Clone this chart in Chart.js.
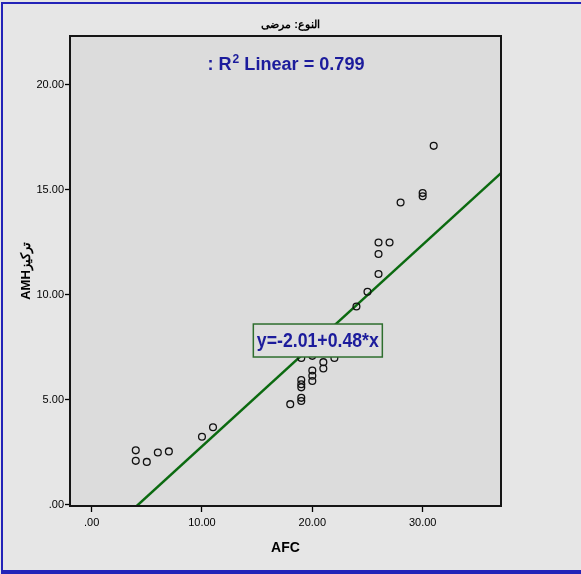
<!DOCTYPE html>
<html>
<head>
<meta charset="utf-8">
<script src="https://cdn.jsdelivr.net/npm/chart.js@4.4.0/dist/chart.umd.min.js"></script>
<style>
  html, body { margin: 0; padding: 0; background: #e6e6e6; }
  #wrap { width: 581px; height: 574px; }
</style>
</head>
<body>
<div id="wrap"><canvas id="myChart" width="581" height="574"></canvas></div>
<script>
// values
var afc = [4, 4, 5, 6, 7, 10, 11, 18, 19, 19, 19, 19, 19, 19, 20, 20, 20, 20, 21, 21, 22, 24, 25, 26, 26, 26, 27, 28, 30, 30, 31];
var amh = [2.6, 2.1, 2.05, 2.5, 2.55, 3.25, 3.7, 4.8, 4.95, 5.1, 5.6, 5.75, 5.95, 7.0, 5.9, 6.15, 6.4, 7.1, 6.5, 6.8, 7.0, 9.45, 10.15, 11.0, 11.95, 12.5, 12.5, 14.4, 14.7, 14.85, 17.1];
var fitIntercept = -2.01;
var fitSlope = 0.48;
var rSquared = 0.799;
var xTicks = [0, 10, 20, 30];
var yTicks = [0, 5, 10, 15, 20];
var xRange = [-1.96, 37.1];
var yRange = [-0.05, 22.33];

var titleText = 'النوع: مرضى';
var xTitle = 'AFC';
var yTitle = 'AMHتركيز';

var points = afc.map(function (v, i) { return { x: v, y: amh[i] }; });
var fitLine = xRange.map(function (v) { return { x: v, y: fitIntercept + fitSlope * v }; });

function fmt(v) {
  return v === 0 ? '.00' : v.toFixed(2);
}

var FONT = "'Liberation Sans', Arial, sans-serif";

// draw a string squeezed to a target width
function narrowText(ctx, txt, x, y, w) {
  var m = ctx.measureText(txt).width;
  ctx.save();
  ctx.translate(x, y);
  ctx.scale(w / m, 1);
  ctx.fillText(txt, 0, 0);
  ctx.restore();
}

var spssLook = {
  id: 'spssLook',
  beforeDraw: function (chart) {
    var c = chart.ctx, a = chart.chartArea;
    c.save();
    c.fillStyle = '#e6e6e6';
    c.fillRect(0, 0, chart.width, chart.height);
    c.fillStyle = '#dcdcdc';
    c.fillRect(a.left, a.top, a.right - a.left, a.bottom - a.top);
    c.restore();
  },
  afterDatasetsDraw: function (chart) {
    var c = chart.ctx, a = chart.chartArea;
    var xs = chart.scales.x, ys = chart.scales.y;
    c.save();
    // frame
    c.strokeStyle = '#151515';
    c.lineWidth = 2;
    c.strokeRect(a.left, a.top, a.right - a.left, a.bottom - a.top);

    // title
    c.fillStyle = '#000';
    c.font = 'bold 11px ' + FONT;
    c.textAlign = 'center';
    c.textBaseline = 'middle';
    c.fillText(titleText, chart.width / 2, 25);

    // R2 text
    c.fillStyle = '#1c1c9c';
    c.textAlign = 'left';
    c.textBaseline = 'alphabetic';
    c.font = 'bold 18px ' + FONT;
    var p1 = ': R', p3 = ' Linear = ' + rSquared.toFixed(3);
    var w1 = c.measureText(p1).width, w3 = c.measureText(p3).width;
    c.font = 'bold 12px ' + FONT;
    var w2 = c.measureText('2').width;
    var k = 156 / (w1 + w2 + w3);
    var cx = (a.left + a.right) / 2;
    var x0 = cx - 78, base = 70;
    c.save();
    c.translate(x0, base);
    c.scale(k, 1);
    c.font = 'bold 18px ' + FONT;
    c.fillText(p1, 0, 0);
    c.font = 'bold 12px ' + FONT;
    c.fillText('2', w1 + 1, -7);
    c.font = 'bold 18px ' + FONT;
    c.fillText(p3, w1 + w2 + 1, 0);
    c.restore();

    // equation box on the fit line
    var ex = 20.5;
    var bx = xs.getPixelForValue(ex), by = ys.getPixelForValue(fitIntercept + fitSlope * ex);
    var bw = 129, bh = 33;
    c.fillStyle = '#dedede';
    c.fillRect(bx - bw / 2, by - bh / 2, bw, bh);
    c.strokeStyle = '#2e6e2e';
    c.lineWidth = 1.5;
    c.strokeRect(bx - bw / 2, by - bh / 2, bw, bh);
    c.fillStyle = '#1c1c9c';
    c.font = 'bold 21px ' + FONT;
    c.textAlign = 'left';
    c.textBaseline = 'middle';
    narrowText(c, 'y=' + fitIntercept.toFixed(2) + '+' + fitSlope.toFixed(2) + '*x', bx - 61, by + 1, 122);
    c.restore();
  },
  afterDraw: function (chart) {
    var c = chart.ctx;
    c.save();
    c.fillStyle = '#2323b8';
    c.fillRect(1, 2, 2, chart.height - 4);
    c.fillRect(1, 2, chart.width - 1, 2);
    c.fillRect(1, chart.height - 4, chart.width - 1, 4);
    c.restore();
  }
};

var ctx = document.getElementById('myChart').getContext('2d');
var myChart = new Chart(ctx, {
  type: 'scatter',
  data: {
    datasets: [{
      type: 'line',
      data: fitLine,
      borderColor: '#0b6a10',
      borderWidth: 2.5,
      pointRadius: 0,
      fill: false,
      order: 2
    }, {
      data: points,
      pointStyle: 'circle',
      pointRadius: 3.4,
      borderWidth: 1.3,
      borderColor: '#111',
      backgroundColor: 'rgba(0,0,0,0)',
      order: 1
    }]
  },
  options: {
    responsive: false,
    animation: false,
    devicePixelRatio: 1,
    layout: { padding: { top: 36, right: 80, left: 0, bottom: 0 } },
    plugins: {
      legend: { display: false },
      tooltip: { enabled: false }
    },
    scales: {
      x: {
        type: 'linear',
        position: 'bottom',
        min: xRange[0],
        max: xRange[1],
        afterBuildTicks: function (s) { s.ticks = xTicks.map(function (v) { return { value: v }; }); },
        afterFit: function (s) { s.height = 68; },
        grid: { drawOnChartArea: false, drawTicks: true, tickLength: 6, tickColor: '#000', tickWidth: 1.3 },
        border: { display: false },
        ticks: {
          color: '#000',
          padding: 4,
          maxRotation: 0,
          font: { family: FONT, size: 11 },
          callback: function (v) { return fmt(v); }
        },
        title: {
          display: true,
          text: xTitle,
          color: '#000',
          font: { family: FONT, size: 14, weight: 'bold' },
          padding: { top: 0, bottom: 17.6 }
        }
      },
      y: {
        type: 'linear',
        min: yRange[0],
        max: yRange[1],
        afterBuildTicks: function (s) { s.ticks = yTicks.map(function (v) { return { value: v }; }); },
        afterFit: function (s) { s.width = 70; },
        grid: { drawOnChartArea: false, drawTicks: true, tickLength: 5, tickColor: '#000', tickWidth: 1.3 },
        border: { display: false },
        ticks: {
          color: '#000',
          padding: 1,
          font: { family: FONT, size: 11 },
          callback: function (v) { return fmt(v); }
        },
        title: {
          display: true,
          text: yTitle,
          color: '#000',
          font: { family: FONT, size: 13, weight: 'bold' },
          padding: { top: 19, bottom: 0 }
        }
      }
    }
  },
  plugins: [spssLook]
});
</script>
</body>
</html>
